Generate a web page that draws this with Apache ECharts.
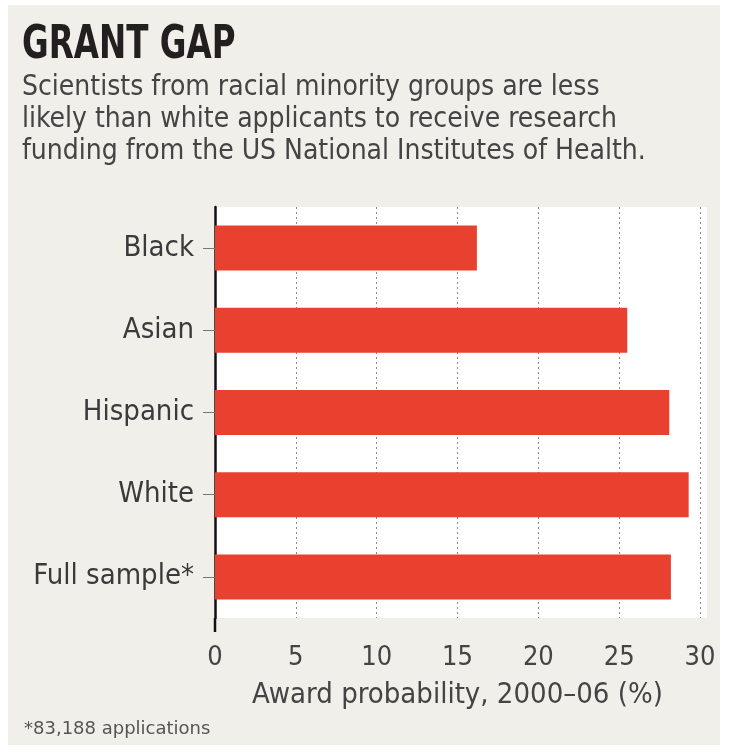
<!DOCTYPE html>
<html>
<head>
<meta charset="utf-8">
<script src="https://cdn.jsdelivr.net/npm/echarts@6/dist/echarts.min.js"></script>
<style>
  html, body { margin: 0; padding: 0; background: #fff; }
  #chart { width: 731px; height: 755px; }
</style>
</head>
<body>
<div id="chart"></div>
<script>
const categories = ['Black', 'Asian', 'Hispanic', 'White', 'Full sample*'];
const awardProbability = [16.2, 25.5, 28.1, 29.3, 28.2];
const xTicks = [0, 5, 10, 15, 20, 25, 30];

const FONT = '"DejaVu Sans Condensed", "Liberation Sans Narrow", sans-serif';
const BEIGE = '#f1efe9';
const RED = '#e9412f';

const chart = echarts.init(document.getElementById('chart'));

const option = {
  backgroundColor: '#fff',
  animation: false,
  grid: {
    left: 215,
    right: 31,
    top: 207,
    bottom: 137,
    show: true,
    backgroundColor: '#fff',
    borderWidth: 0,
  },
  xAxis: {
    type: 'value',
    min: xTicks[0],
    max: xTicks[xTicks.length - 1],
    interval: 5,
    axisLine: { show: false },
    axisTick: { show: false },
    axisLabel: {
      fontFamily: FONT,
      fontSize: 27,
      color: '#444',
      margin: 26,
    },
    splitLine: {
      show: true,
      lineStyle: { color: '#8a8a8a', type: [2, 3], width: 1 },
    },
    name: 'Award probability, 2000–06 (%)',
    nameLocation: 'middle',
    nameGap: 63,
    nameTextStyle: {
      fontFamily: FONT,
      fontSize: 29,
      color: '#444',
    },
  },
  yAxis: {
    type: 'category',
    data: categories,
    inverse: true,
    axisLine: { show: true, lineStyle: { color: '#111', width: 2.5 } },
    axisTick: {
      show: true,
      alignWithLabel: true,
      length: 12,
      lineStyle: { color: '#777', width: 1 },
    },
    axisLabel: {
      fontFamily: FONT,
      fontSize: 29,
      color: '#3a3a3a',
      margin: 21,
    },
  },
  series: [
    {
      type: 'bar',
      data: awardProbability,
      barWidth: 45,
      itemStyle: { color: RED },
    },
  ],
  graphic: [
    {
      type: 'rect',
      z: -10,
      silent: true,
      shape: { x: 8, y: 5, width: 712, height: 740 },
      style: { fill: BEIGE },
    },
    {
      type: 'text',
      left: 22,
      top: 22,
      scaleX: 0.77,
      style: {
        text: 'GRANT GAP',
        font: 'bold 47px ' + FONT,
        fill: '#231f20',
      },
    },
    {
      type: 'text',
      left: 22,
      top: 72,
      style: {
        text: 'Scientists from racial minority groups are less\nlikely than white applicants to receive research\nfunding from the US National Institutes of Health.',
        font: '28px ' + FONT,
        lineHeight: 32,
        fill: '#444',
      },
    },
    {
      type: 'text',
      left: 24,
      top: 720,
      style: {
        text: '*83,188 applications',
        font: '18px "DejaVu Sans", sans-serif',
        fill: '#555',
      },
    },
  ],
};

chart.setOption(option);

// extend the value axis line a little below the plot, and the white panel a bit past 30
const x0 = chart.convertToPixel({ xAxisIndex: 0 }, 0);
const x30 = chart.convertToPixel({ xAxisIndex: 0 }, 30);
const yTop = 207;
const yBottom = 755 - 137;
chart.setOption({
  graphic: option.graphic.concat([
    {
      type: 'rect',
      z: -5,
      silent: true,
      shape: { x: x30, y: yTop, width: 7, height: yBottom - yTop },
      style: { fill: '#fff' },
    },
    {
      type: 'line',
      shape: { x1: x0, y1: yBottom, x2: x0, y2: yBottom + 14 },
      style: { stroke: '#111', lineWidth: 2.5 },
    },
  ]),
});
</script>
</body>
</html>
